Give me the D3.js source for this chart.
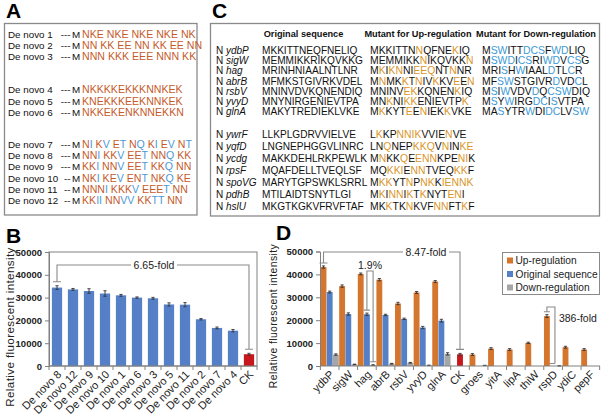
<!DOCTYPE html>
<html><head><meta charset="utf-8">
<script src="https://cdn.jsdelivr.net/npm/d3@7"></script>
<style>body{margin:0;background:#fff} svg{display:block;font-family:"Liberation Sans",Arial,sans-serif}</style>
</head><body>
<svg id="fig" width="602" height="419"></svg>
<script>
// ---------- DATA ----------
const aLabels = ["De novo 1","De novo 2","De novo 3","De novo 4","De novo 5","De novo 6","De novo 7","De novo 8","De novo 9","De novo 10","De novo 11","De novo 12"];
const aSeqs = ["NKE NKE NKE NKE NK","NN KK EE NN KK EE NN","NNN KKK EEE NNN KK","NKKKKEKKKNNKEK","KNEKKKEEKNNKEK","NKKEKENKNNEKKN","NI KV ET NQ KI EV NT","NNI KKV EET NNQ KK","KKI NNV EET KKQ NN","NKI KEV ENT NKQ KE","NNNI KKKV EEET NN","KKII NNVV KKTT NN"];

const cHeaders = ["Original sequence","Mutant for Up-regulation","Mutant for Down-regulation"];
const cGenes = ["ydbP","sigW","hag","abrB","rsbV","yvyD","glnA","ywrF","yqfD","ycdg","rpsF","spoVG","pdhB","hslU"];
const cOriginal = ["MKKITTNEQFNELIQ","MEMMIKKRIKQVKKG","MRINHNIAALNTLNR","MFMKSTGIVRKVDEL","MNINVDVKQNENDIQ","MNYNIRGENIEVTPA","MAKYTREDIEKLVKE","LLKPLGDRVVIELVE","LNGNEPHGGVLINRC","MAKKDEHLRKPEWLK","MQAFDELLTVEQLSF","MARYTGPSWKLSRRL","MTILAIDTSNYTLGI","MKGTKGKVFRVFTAF"];
const cUp = ["MKKITTNNQFNEKIQ","MEMMIKKNIKQVKKN","MKIKNNIEEQNTNNR","MNMKKTNIVKKVEEN","MNINVEKKQNENKIQ","MNKNIKKENIEVTPK","MKKYTEENIEKKVKE","LKKPNNIKVVIENVE","LNQNEPKKQVNINKE","MNKKQEENNKPENIK","MQKKIENNTVEQKKF","MKKYTNPNKKIENNK","MKINNIKTKNYTENI","MKKTKNKVFNNFTKF"];
const cDown = ["MSWITTDCSFWDLIQ","MSWDICSRIWDVCSG","MRISHWIAALDTLCR","MFSWSTGIVRDVDCL","MSIWVDVDQCSWDIQ","MSYWIRGDCISVTPA","MASYTRWDIDCLVSW",null,null,null,null,null,null,null];

const yTicks = [0,10000,20000,30000,40000,50000];

const bCategories = ["De novo 8","De novo 12","De novo 9","De novo 10","De novo 1","De novo 6","De novo 3","De novo 5","De novo 11","De novo 2","De novo 7","De novo 4","CK"];
const bValues = [34400,33600,32900,31800,31000,30000,29700,27000,26900,20500,16700,15500,5170];
const bErrors = [800,400,1000,1200,400,300,400,700,900,300,400,500,400];
const bFold = "6.65-fold";

const dCategories = ["ydbP","sigW","hag","abrB","rsbV","yvyD","glnA","CK","groes","yitA","lipA","thiW","rspD","ydiC","pepF"];
const dUp =      [43200,34900,40200,37700,27300,32100,36900,null,5000,7600,7200,10100,21800,8200,7200];
const dUpErr =   [500,500,400,500,500,400,400,null,400,400,400,300,600,400,400];
const dOrig =    [32300,22700,22600,22300,20600,16800,19800,null,null,null,null,null,null,null,null];
const dOrigErr = [400,500,500,300,300,500,600,null,null,null,null,null,null,null,null];
const dDown =    [5000,700,430,1000,1400,300,5300,null,250,null,null,null,56,null,null];
const dDownErr = [300,100,100,150,150,80,500,null,60,null,null,null,20,null,null];
const dControl = [null,null,null,null,null,null,null,5100,null,null,null,null,null,null,null];
const dControlErr = [null,null,null,null,null,null,null,400,null,null,null,null,null,null,null];
const dSeries = ["Up-regulation","Original sequence","Down-regulation"];
const dFolds = ["8.47-fold","1.9%","386-fold"];

// ---------- STYLE ----------
const C_AOR = "#c55a2b", C_ABL = "#4a9ad6";
const C_COR = "#d9962a", C_CBL = "#3d9ad6";
const C_BAR_BLUE = "#5580c8", C_ORANGE = "#d5762f", C_GRAY = "#a6a6a6", C_RED = "#c8161d";
const FRAME = "#8a8a8a", AX = "#808080";

const svg = d3.select("#fig");

function colored(g, x, y, str, colorFn, size) {
  const t = g.append("text").attr("x", x).attr("y", y).attr("font-size", size).style("white-space","pre");
  const runs = [];
  for (let i = 0; i < str.length; i++) {
    const c = colorFn(str[i], i);
    if (runs.length && runs[runs.length-1].c === c) runs[runs.length-1].s += str[i];
    else runs.push({s: str[i], c});
  }
  runs.forEach(r => t.append("tspan").attr("fill", r.c).text(r.s));
  return t;
}

function panelLabel(t, x, y) {
  svg.append("text").attr("x", x).attr("y", y).attr("font-size", 21).attr("font-weight", "bold").attr("fill", "#000").text(t);
}

// ---------- PANEL A ----------
panelLabel("A", 6, 18);
svg.append("rect").attr("x", 4.5).attr("y", 23.5).attr("width", 192.5).attr("height", 191.5).attr("fill", "none").attr("stroke", FRAME).attr("stroke-width", 1.3);
const gA = svg.append("g");
aLabels.forEach((lab, i) => {
  const y = 34 + i * 11.35 + (i >= 3 ? 21.5 : 0) + (i >= 6 ? 20.5 : 0) + 3.6;
  gA.append("text").attr("x", 8).attr("y", y).attr("font-size", 9.8).attr("fill", "#111").text(lab);
  gA.append("text").attr("x", 70.5).attr("y", y).attr("font-size", 9.8).attr("text-anchor", "end").attr("fill", "#111").text(lab.length > 9 ? "--" : "---");
  gA.append("text").attr("x", 72).attr("y", y).attr("font-size", 9.8).attr("fill", "#111").text("M");
  colored(gA, 82, y, aSeqs[i], ch => ("NKE ".includes(ch) ? C_AOR : C_ABL), 10.6);
});

// ---------- PANEL C ----------
panelLabel("C", 212, 18);
svg.append("rect").attr("x", 210.5).attr("y", 23.5).attr("width", 389).attr("height", 192.5).attr("fill", "none").attr("stroke", FRAME).attr("stroke-width", 1.3);
const gC = svg.append("g");
const colX = [262, 370, 482];
const headX = [303.5, 418, 536];
cHeaders.forEach((h, j) => gC.append("text").attr("x", headX[j]).attr("y", 37).attr("text-anchor", "middle").attr("font-size", 9.2).attr("font-weight", "bold").attr("fill", "#111").text(h));
cGenes.forEach((gname, i) => {
  const y = (i < 7 ? 50 + i * 10.3 : 134 + (i - 7) * 12) + 3.6;
  const t = gC.append("text").attr("x", 216).attr("y", y).attr("font-size", 10).attr("fill", "#111");
  t.append("tspan").text("N ");
  t.append("tspan").attr("font-style", "italic").text(gname);
  const orig = cOriginal[i];
  colored(gC, colX[0], y, orig, () => "#111", 10.1);
  colored(gC, colX[1], y, cUp[i], (ch, k) => ch === orig[k] ? "#111" : C_COR, 10.4);
  if (cDown[i]) colored(gC, colX[2], y, cDown[i], (ch, k) => ch === orig[k] ? "#111" : C_CBL, 10.4);
});

// ---------- helpers for bar charts ----------
function yAxis(g, x, y, title, titleX, titleY, titleSize) {
  const ax = d3.axisLeft(y).tickValues(yTicks).tickSize(4).tickPadding(3).tickFormat(d3.format("d"));
  const a = g.append("g").attr("transform", `translate(${x},0)`).call(ax);
  a.select(".domain").attr("stroke", AX);
  a.selectAll(".tick line").attr("stroke", AX);
  a.selectAll(".tick text").attr("font-size", 9.5).attr("font-weight", "bold").attr("fill", "#222").attr("font-family", "Liberation Sans, Arial, sans-serif");
  g.append("text").attr("transform", `translate(${titleX},${titleY}) rotate(-90)`).attr("text-anchor", "middle")
    .attr("font-size", titleSize).attr("fill", "#222").attr("letter-spacing", 0.4).text(title);
}
function xAxis(g, xs, y0, labels) {
  const [r0, r1] = xs.range();
  g.append("line").attr("x1", r0).attr("x2", r1).attr("y1", y0).attr("y2", y0).attr("stroke", AX);
  const step = xs.step();
  const start = r0 + (r1 - r0 - step * xs.domain().length) / 2;
  d3.range(xs.domain().length + 1).forEach(k => {
    const xx = start + k * step;
    g.append("line").attr("x1", xx).attr("x2", xx).attr("y1", y0).attr("y2", y0 + 4).attr("stroke", AX);
  });
  labels.forEach(l => {
    g.append("text").attr("transform", `translate(${l.x + 3},${y0 + 7}) rotate(-45)`).attr("text-anchor", "end")
      .attr("dominant-baseline", "middle").attr("font-size", 11).attr("fill", "#222").text(l.t);
  });
}
function errBar(g, cx, y, v, e) {
  if (v == null || e == null) return;
  g.append("line").attr("x1", cx).attr("x2", cx).attr("y1", y(v - e)).attr("y2", y(v + e)).attr("stroke", "#333").attr("stroke-width", 0.9);
  [v - e, v + e].forEach(w => g.append("line").attr("x1", cx - 1.6).attr("x2", cx + 1.6).attr("y1", y(w)).attr("y2", y(w)).attr("stroke", "#333").attr("stroke-width", 0.9));
}
function bracket(g, x1, yb1, x2, yb2, yt, label, lx, gapW) {
  g.append("path").attr("d",
    `M${x1-4},${yb1} H${x1+4} M${x1},${yb1} V${yt} H${lx - gapW/2} M${lx + gapW/2},${yt} H${x2} V${yb2} M${x2-4},${yb2} H${x2+4}`)
    .attr("stroke", "#8a8a8a").attr("stroke-width", 1.1).attr("fill", "none");
  g.append("text").attr("x", lx).attr("y", yt + 3.6).attr("text-anchor", "middle").attr("font-size", 10.5).attr("fill", "#222").text(label);
}

// ---------- PANEL B ----------
panelLabel("B", 6, 243);
const gB = svg.append("g");
const bx = d3.scaleBand().domain(bCategories).range([49, 257]).paddingInner(0.36).paddingOuter(0.18);
const by = d3.scaleLinear().domain([0, 50000]).range([366, 252]);
gB.append("rect").attr("x", 49).attr("y", by(50000)).attr("width", 208).attr("height", by(0) - by(50000)).attr("fill", "none").attr("stroke", AX);
gB.selectAll("rect.bar").data(bCategories).enter().append("rect").attr("class", "bar")
  .attr("x", d => bx(d)).attr("width", bx.bandwidth())
  .attr("y", (d, i) => by(bValues[i])).attr("height", (d, i) => by(0) - by(bValues[i]))
  .attr("fill", d => d === "CK" ? C_RED : C_BAR_BLUE);
bCategories.forEach((c, i) => errBar(gB, bx(c) + bx.bandwidth() / 2, by, bValues[i], bErrors[i]));
yAxis(gB, 49, by, "Relative fluorescent intensity", 13.5, 327, 11.6);
xAxis(gB, bx, 366, bCategories.map(c => ({t: c, x: bx(c) + bx.bandwidth() / 2})));
{
  const i0 = 0, i1 = bCategories.length - 1;
  bracket(gB, bx(bCategories[i0]) + bx.bandwidth()/2, by(bValues[i0] + bErrors[i0]) - 4,
          bx(bCategories[i1]) + bx.bandwidth()/2, by(bValues[i1] + bErrors[i1]) - 4,
          265, bFold, 154, 46);
}

// ---------- PANEL D ----------
panelLabel("D", 276, 240);
const gD = svg.append("g");
const dx = d3.scaleBand().domain(dCategories).range([320, 600]).paddingInner(0).paddingOuter(0.02);
const sub = d3.scaleBand().domain(["up", "orig", "down"]).range([0, dx.bandwidth()]).paddingInner(0.05).paddingOuter(0.03);
const dy = d3.scaleLinear().domain([0, 50000]).range([366, 251.5]);
const seriesDefs = [
  {k: "up", v: dUp, e: dUpErr, c: C_ORANGE},
  {k: "orig", v: dOrig, e: dOrigErr, c: C_BAR_BLUE},
  {k: "down", v: dDown, e: dDownErr, c: C_GRAY},
  {k: "orig", v: dControl, e: dControlErr, c: C_RED}
];
seriesDefs.forEach(s => {
  dCategories.forEach((cat, i) => {
    const v = s.v[i];
    if (v == null) return;
    const x0 = dx(cat) + sub(s.k);
    gD.append("rect").attr("x", x0).attr("width", sub.bandwidth()).attr("y", dy(v)).attr("height", dy(0) - dy(v)).attr("fill", s.c);
    errBar(gD, x0 + sub.bandwidth() / 2, dy, v, s.e[i]);
  });
});
yAxis(gD, 320, dy, "Relative fluorescent intensity", 277, 316, 10.4);
xAxis(gD, dx, 366, dCategories.map(c => ({t: c, x: dx(c) + dx.bandwidth() / 2})));
const cx = (cat, k) => dx(cat) + sub(k) + sub.bandwidth() / 2;
// 8.47-fold: ydbP up vs CK
bracket(gD, cx("ydbP", "up"), dy(dUp[0] + dUpErr[0]) - 3, cx("CK", "orig"), dy(dControl[7] + dControlErr[7]) - 4, 252, dFolds[0], 426, 46);
// 1.9%: hag original vs hag down
{
  const x1 = cx("hag", "orig"), x2 = cx("hag", "down");
  gD.append("path").attr("d", `M${x1-3},${dy(dOrig[2] + dOrigErr[2]) - 3} H${x1+3} M${x1},${dy(dOrig[2] + dOrigErr[2]) - 3} V271 H${x2} V${dy(dDown[2] + dDownErr[2]) - 3} M${x2-3},${dy(dDown[2] + dDownErr[2]) - 3} H${x2+3}`)
    .attr("stroke", "#8a8a8a").attr("stroke-width", 1.1).attr("fill", "none");
  gD.append("text").attr("x", (x1 + x2) / 2).attr("y", 268.5).attr("text-anchor", "middle").attr("font-size", 10.5).attr("fill", "#222").text(dFolds[1]);
}
// 386-fold: rspD up vs rspD down
{
  const i = dCategories.indexOf("rspD");
  const x1 = cx("rspD", "up"), x2 = dx("rspD") + dx.bandwidth() * 0.6;
  const yt = 307, yb1 = dy(dUp[i] + dUpErr[i]) - 3, yb2 = dy(0) - 2.5;
  gD.append("path").attr("d", `M${x1-3},${yb1} H${x1+3} M${x1},${yb1} V${yt} H${x2} V${yb2} M${x2-5},${yb2} H${x2}`)
    .attr("stroke", "#8a8a8a").attr("stroke-width", 1.1).attr("fill", "none");
  gD.append("text").attr("x", x2 + 4).attr("y", 321.5).attr("font-size", 10.5).attr("fill", "#222").text(dFolds[2]);
}
// legend
{
  const lg = gD.append("g");
  lg.append("rect").attr("x", 502.5).attr("y", 252.5).attr("width", 97).attr("height", 42).attr("fill", "#fff").attr("stroke", FRAME);
  [C_ORANGE, C_BAR_BLUE, C_GRAY].forEach((c, k) => {
    const y = 260.5 + k * 13.5;
    lg.append("rect").attr("x", 507).attr("y", y - 3).attr("width", 6).attr("height", 6).attr("fill", c);
    lg.append("text").attr("x", 515.5).attr("y", y + 3.6).attr("font-size", 10.2).attr("fill", "#222").text(dSeries[k]);
  });
}
</script>
</body></html>
